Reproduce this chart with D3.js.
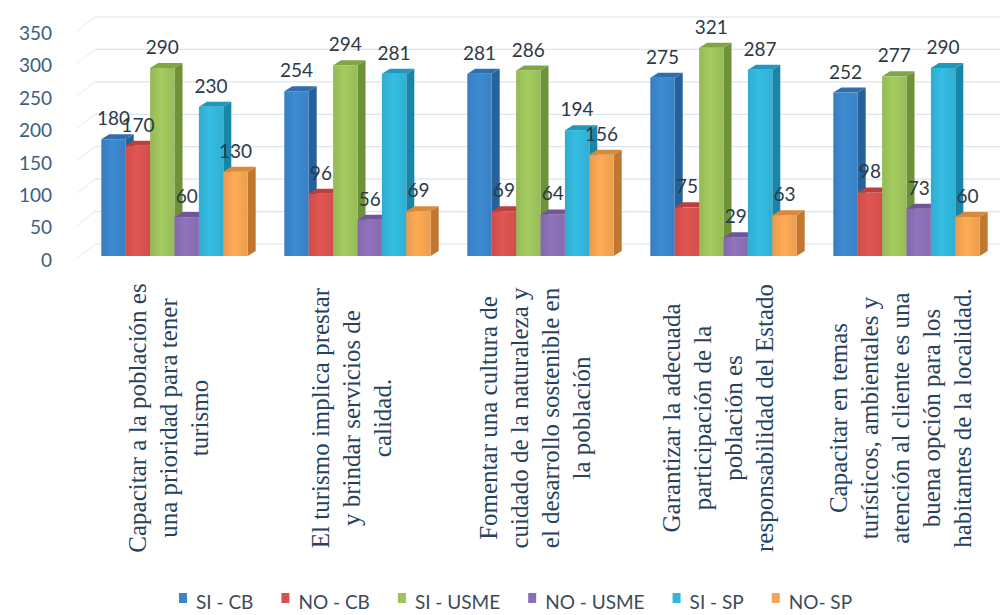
<!DOCTYPE html>
<html>
<head>
<meta charset="utf-8">
<script src="https://cdn.jsdelivr.net/npm/d3@7"></script>
<style>
  html, body { margin: 0; padding: 0; background: #fff; }
  svg { display: block; }
</style>
</head>
<body>
<div id="chart"></div>
<script>
// data
const categories = [
  ["Capacitar a la población es", "una prioridad para tener", "turismo"],
  ["El turismo implica prestar", "y brindar servicios de", "calidad."],
  ["Fomentar una cultura de", "cuidado de la naturaleza y", "el desarrollo sostenible en", "la población"],
  ["Garantizar la adecuada", "participación de la", "población es", "responsabilidad del Estado"],
  ["Capacitar en temas", "turísticos, ambientales y", "atención al cliente es una", "buena opción para los", "habitantes de la localidad."]
];
const seriesNames = ["SI - CB", "NO - CB", "SI - USME", "NO - USME", "SI - SP", "NO- SP"];
const siCB   = [180, 254, 281, 275, 252];
const noCB   = [170, 96, 69, 75, 98];
const siUSME = [290, 294, 286, 321, 277];
const noUSME = [60, 56, 64, 29, 73];
const siSP   = [230, 281, 194, 287, 290];
const noSP   = [130, 69, 156, 63, 60];
const yTicks = [0, 50, 100, 150, 200, 250, 300, 350];

const seriesValues = [siCB, noCB, siUSME, noUSME, siSP, noSP];
const colors = {
  "SI - CB":   {front: "#3b85c9", top: "#2f6fae", side: "#25619a"},
  "NO - CB":   {front: "#d9514f", top: "#bb3f3d", side: "#a63735"},
  "SI - USME": {front: "#9dc35b", top: "#80a644", side: "#6e9237"},
  "NO - USME": {front: "#8b6eb4", top: "#70559a", side: "#614986"},
  "SI - SP":   {front: "#33b5da", top: "#1f98bb", side: "#1886a6"},
  "NO- SP":    {front: "#f4a452", top: "#d88a3a", side: "#c27730"}
};

const width = 1006, height = 615;
const depth = {dx: 8, dy: -5};
const wall = {dx: 18, dy: -12};

const svg = d3.select("#chart").append("svg")
  .attr("width", width)
  .attr("height", height);

const defs = svg.append("defs");
seriesNames.forEach((s, i) => {
  const g = defs.append("linearGradient").attr("id", "grad" + i)
    .attr("x1", "0%").attr("x2", "100%").attr("y1", "0%").attr("y2", "0%");
  const c = d3.color(colors[s].front);
  g.append("stop").attr("offset", "0%").attr("stop-color", c.darker(0.15));
  g.append("stop").attr("offset", "45%").attr("stop-color", c.brighter(0.12));
  g.append("stop").attr("offset", "100%").attr("stop-color", c.darker(0.1));
});

const x0 = d3.scaleBand()
  .domain(d3.range(categories.length))
  .range([83, 998])
  .paddingInner(0.2)
  .paddingOuter(0.1);

const x1 = d3.scaleBand()
  .domain(seriesNames)
  .range([0, x0.bandwidth()]);

const y = d3.scaleLinear()
  .domain([0, 350])
  .range([256, 29]);

// back wall grid + left wall diagonals
const grid = svg.append("g");
const wallLeft = 77;
grid.selectAll("line.h")
  .data(yTicks)
  .enter().append("line")
  .attr("x1", wallLeft + wall.dx)
  .attr("x2", 1000)
  .attr("y1", d => y(d) + wall.dy)
  .attr("y2", d => y(d) + wall.dy)
  .attr("stroke", "#dbe5ef")
  .attr("stroke-width", 1.2);
grid.selectAll("line.d")
  .data(yTicks)
  .enter().append("line")
  .attr("x1", wallLeft)
  .attr("x2", wallLeft + wall.dx)
  .attr("y1", d => y(d) + 2)
  .attr("y2", d => y(d) + wall.dy)
  .attr("stroke", "#e3ebf3")
  .attr("stroke-width", 1);

// y axis labels
svg.append("g").selectAll("text")
  .data(yTicks)
  .enter().append("text")
  .attr("x", 52)
  .attr("y", d => y(d) + 6)
  .attr("text-anchor", "end")
  .attr("dominant-baseline", "middle")
  .style("font", "19px Lato")
  .attr("fill", "#3d5e7e")
  .text(d => d);

// bars
const groups = svg.append("g").selectAll("g")
  .data(categories)
  .enter().append("g")
  .attr("transform", (d, i) => `translate(${x0(i)},0)`);

groups.each(function(cat, gi) {
  const g = d3.select(this);
  seriesNames.forEach((s, si) => {
    const v = seriesValues[si][gi];
    const bx = x1(s), bw = x1.bandwidth();
    const top = y(v), base = y(0);
    // side face
    g.append("path")
      .attr("d", `M${bx + bw},${top} L${bx + bw + depth.dx},${top + depth.dy} L${bx + bw + depth.dx},${base + depth.dy} L${bx + bw},${base} Z`)
      .attr("fill", colors[s].side);
    // front face
    g.append("rect")
      .attr("x", bx)
      .attr("y", top)
      .attr("width", bw)
      .attr("height", base - top)
      .attr("fill", `url(#grad${si})`);
    // top face
    g.append("path")
      .attr("d", `M${bx},${top} L${bx + depth.dx},${top + depth.dy} L${bx + bw + depth.dx},${top + depth.dy} L${bx + bw},${top} Z`)
      .attr("fill", colors[s].top);
  });
});

// value labels on top
groups.each(function(cat, gi) {
  const g = d3.select(this);
  seriesNames.forEach((s, si) => {
    const v = seriesValues[si][gi];
    g.append("text")
      .attr("x", x1(s) + x1.bandwidth() / 2)
      .attr("y", y(v) - 14)
      .attr("text-anchor", "middle")
      .style("font", "19px Lato")
      .attr("fill", "#2c3a48")
      .text(v);
  });
});

// category labels, rotated
const lineGap = 31;
categories.forEach((lines, gi) => {
  const cx = x0(gi) + x0.bandwidth() / 2 - 6;
  const cy = 418;
  lines.forEach((ln, li) => {
    const lx = cx + (li - (lines.length - 1) / 2) * lineGap;
    svg.append("text")
      .attr("x", lx)
      .attr("y", cy)
      .attr("transform", `rotate(-90,${lx},${cy})`)
      .attr("text-anchor", "middle")
      .attr("dominant-baseline", "central")
      .style("font", "25px 'Liberation Serif'")
      .attr("fill", "#27425d")
      .text(ln);
  });
});

// legend
const legend = svg.append("g");
let lx = 179;
seriesNames.forEach((s, i) => {
  legend.append("rect")
    .attr("x", lx)
    .attr("y", 593)
    .attr("width", 8)
    .attr("height", 10)
    .attr("fill", colors[s].front);
  const t = legend.append("text")
    .attr("x", lx + 17)
    .attr("y", 601)
    .attr("dominant-baseline", "central")
    .style("font", "19px Lato")
    .attr("fill", "#3b4b5b")
    .text(s);
  lx += 17 + t.node().getComputedTextLength() + 28;
});
</script>
</body>
</html>
